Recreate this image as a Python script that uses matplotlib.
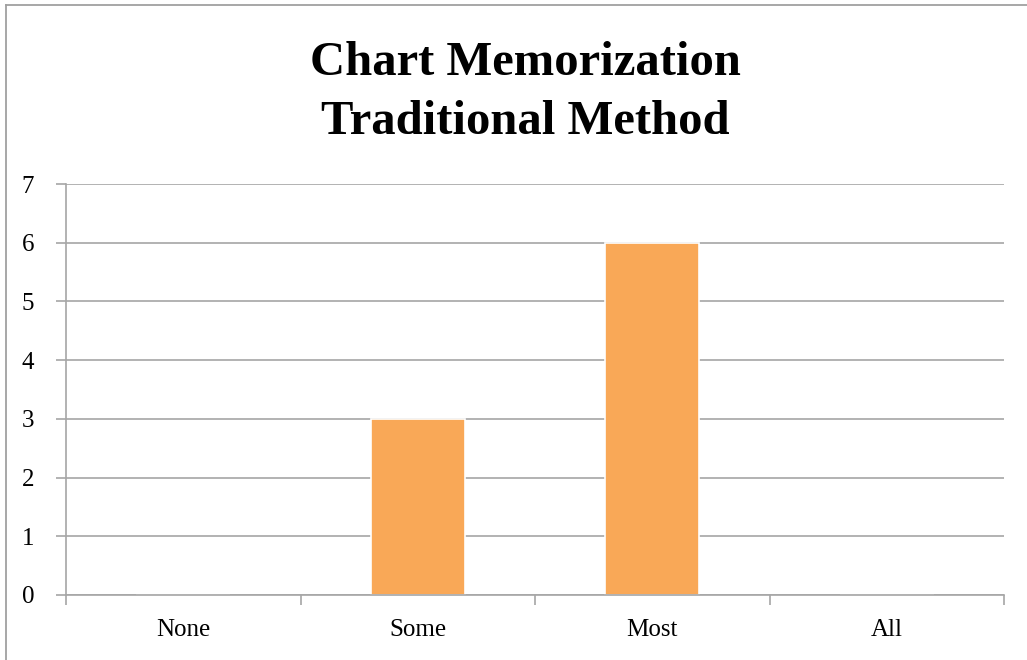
import matplotlib
matplotlib.use("Agg")
import matplotlib.pyplot as plt
from matplotlib.lines import Line2D

categories = ["None", "Some", "Most", "All"]
values = [0, 3, 6, 0]
y_ticks = [0, 1, 2, 3, 4, 5, 6, 7]

bar_color = "#F9A857"
grid_color = "#A6A6A6"

plt.rcParams['font.family'] = ['Liberation Serif', 'DejaVu Serif']

fig = plt.figure(figsize=(10.27, 6.6), dpi=100)
ax = fig.add_axes([0.0643, 0.0985, 0.9133, 0.6227])

x = list(range(len(categories)))
ax.bar(x, values, width=0.4, color=bar_color, edgecolor="white", linewidth=1.2, zorder=2)

ax.set_xlim(-0.5, len(categories) - 0.5)
ax.set_ylim(0, 7)
ax.set_yticks(y_ticks)
ax.set_xticks([i - 0.5 for i in range(len(categories) + 1)], minor=False)
ax.set_xticklabels([])
ax.set_xticks(x, minor=True)
ax.set_xticklabels(categories, minor=True)
ax.tick_params(axis="x", which="minor", length=0, pad=17, labelsize=18)
ax.tick_params(axis="x", which="major", length=7, width=1.2, color=grid_color)
ax.tick_params(axis="y", length=7, width=1.2, color=grid_color, labelsize=18, pad=16)

ax.yaxis.grid(True, color=grid_color, linewidth=1.2, zorder=0)
ax.set_axisbelow(True)
for side in ["top", "right"]:
    ax.spines[side].set_visible(False)
ax.spines["left"].set_color(grid_color)
ax.spines["bottom"].set_color(grid_color)
ax.spines["left"].set_linewidth(1.2)
ax.spines["bottom"].set_linewidth(1.2)

fig.text(525 / 1027, 1 - 63 / 660, "Chart Memorization", ha="center", va="center",
         fontsize=35, fontweight="bold")
fig.text(525 / 1027, 1 - 122 / 660, "Traditional Method", ha="center", va="center",
         fontsize=35, fontweight="bold")

# outer frame (only left and top visible in the crop)
fig.add_artist(Line2D([6 / 1027, 6 / 1027], [0, 1 - 5 / 660], color="#A0A0A0", linewidth=1.3))
fig.add_artist(Line2D([6 / 1027, 1], [1 - 5 / 660, 1 - 5 / 660], color="#A0A0A0", linewidth=1.3))

fig.savefig("out.png", dpi=100)
